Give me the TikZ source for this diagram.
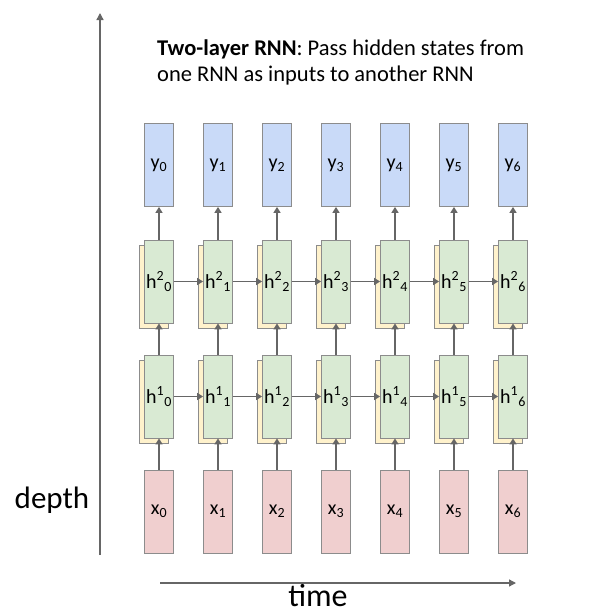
\documentclass[tikz,border=0pt]{standalone}
\usepackage{fontspec}
\setmainfont{Carlito}
\usetikzlibrary{arrows.meta}
\definecolor{yfill}{HTML}{C9DAF8}
\definecolor{hfill}{HTML}{D9EAD3}
\definecolor{xfill}{HTML}{F0CFCF}
\definecolor{backfill}{HTML}{FFF2CC}
\definecolor{edge}{HTML}{8C8C8C}
\definecolor{arrowgray}{HTML}{666666}
\begin{document}
\begin{tikzpicture}[x=1pt,y=-1pt,
  cell/.style={draw=edge, line width=0.8pt, minimum width=29pt, minimum height=83pt, inner sep=0pt, font=\fontsize{20}{24}\selectfont},
  ycell/.style={cell, fill=yfill},
  hcell/.style={cell, fill=hfill},
  xcell/.style={cell, fill=xfill},
  bcell/.style={cell, fill=backfill},
  arr/.style={draw=arrowgray, line width=1.8pt, -{Triangle[width=7pt,length=6pt]}},
  axis/.style={draw=arrowgray, line width=1.3pt, -{Triangle[width=7pt,length=7pt]}}
]
\useasboundingbox (0,0) rectangle (608,614);
\foreach \i in {0,...,6} {
  \pgfmathsetmacro\cx{159+59*\i}
  \node[bcell] (hbb\i) at (\cx-5,286.5) {};
  \node[bcell] (hab\i) at (\cx-5,401.5) {};
  \node[ycell] (y\i) at (\cx,165) {\raisebox{-7pt}{y\textsubscript{\i}}};
  \node[hcell] (hb\i) at (\cx,281.5) {\raisebox{-3pt}{h\textsuperscript{2}\textsubscript{\i}}};
  \node[hcell] (ha\i) at (\cx,396.5) {\raisebox{-3pt}{h\textsuperscript{1}\textsubscript{\i}}};
  \node[xcell] (x\i) at (\cx,511.5) {\raisebox{-7pt}{x\textsubscript{\i}}};
  \draw[arr] (x\i.north) -- (ha\i.south);
  \draw[arr] (ha\i.north) -- (hb\i.south);
  \draw[arr] (hb\i.north) -- (y\i.south);
}
\foreach \i [evaluate=\i as \j using int(\i+1)] in {0,...,5} {
  \draw[arr] (ha\i.east) -- (ha\j.west);
  \draw[arr] (hb\i.east) -- (hb\j.west);
}
\coordinate (d0) at (100,555);
\coordinate (d1) at (100,13);
\draw[axis] (d0) -- (d1);
\coordinate (t0) at (160,583);
\coordinate (t1) at (516,583);
\draw[axis] (t0) -- (t1);
\node[font=\fontsize{31}{36}\selectfont] (depth) at (52,500) {depth};
\node[font=\fontsize{32}{36}\selectfont] (time) at (318,596) {time};
\node[anchor=north west, align=left, inner sep=0pt, font=\fontsize{22.5}{26}\selectfont] (title) at (157,40)
  {\textbf{Two-layer RNN}: Pass hidden states from\\one RNN as inputs to another RNN};
\end{tikzpicture}
\end{document}
